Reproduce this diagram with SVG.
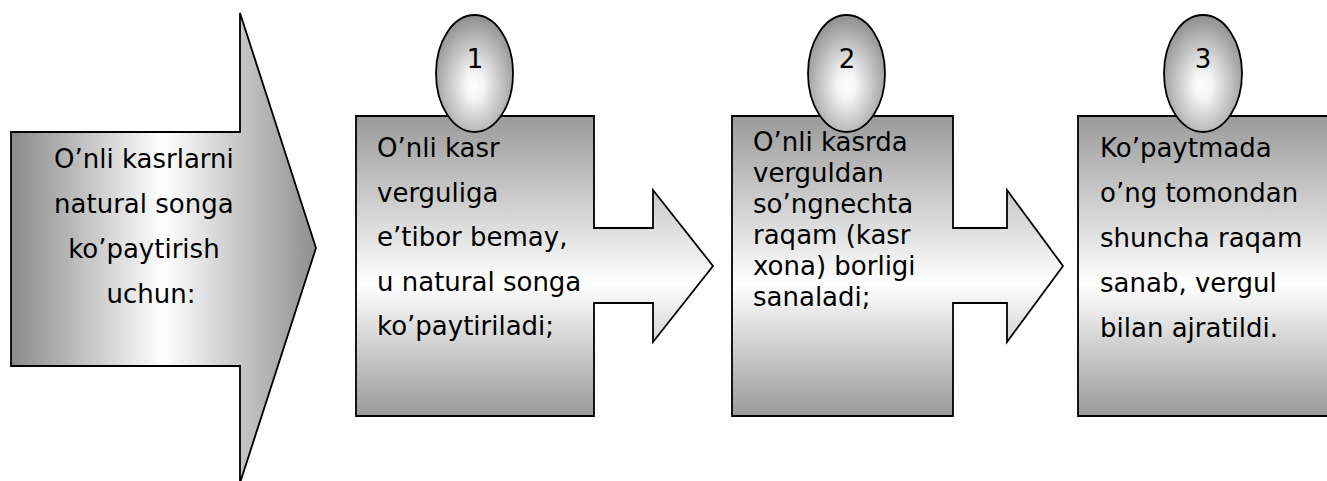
<svg xmlns="http://www.w3.org/2000/svg" width="1327" height="481" viewBox="0 0 1327 481">
  <defs>
    <linearGradient id="gH" x1="0" y1="0" x2="1" y2="0">
      <stop offset="0" stop-color="#8a8a8a"/>
      <stop offset="0.5" stop-color="#ffffff"/>
      <stop offset="1" stop-color="#8f8f8f"/>
    </linearGradient>
    <linearGradient id="gV" x1="0" y1="0" x2="0" y2="1">
      <stop offset="0" stop-color="#9a9a9a"/>
      <stop offset="0.56" stop-color="#ffffff"/>
      <stop offset="1" stop-color="#9a9a9a"/>
    </linearGradient>
    <radialGradient id="gR" cx="0.5" cy="0.6" r="0.6">
      <stop offset="0" stop-color="#ffffff"/>
      <stop offset="0.2" stop-color="#f4f4f4"/>
      <stop offset="1" stop-color="#8e8e8e"/>
    </radialGradient>
  </defs>
  <style>
    .shape { stroke: #000; stroke-width: 1.8; }
    .t { font-family: "DejaVu Sans", "Liberation Sans", sans-serif; font-size: 26px; fill: #000; }
    .c { text-anchor: middle; }
  </style>
  <rect width="1327" height="481" fill="#fff"/>

  <g id="intro">
    <path class="shape" fill="url(#gH)" d="M11,132 H240 V13 L316,248 L240,483 V366 H11 Z"/>
    <text class="t c">
      <tspan x="148" y="168">O’nli kasrlarni</tspan>
      <tspan x="148" y="213">natural songa</tspan>
      <tspan x="148" y="258">ko’paytirish</tspan>
      <tspan x="151" y="303">uchun:</tspan>
    </text>
  </g>

  <g id="step1">
    <path class="shape" fill="url(#gV)" d="M356,116 H594 V228 H653 V190 L713,266 L653,342 V303 H594 V416 H356 Z"/>
    <ellipse class="shape" fill="url(#gR)" cx="474.5" cy="73.5" rx="38.5" ry="58.5"/>
    <text class="t c" x="475" y="68">1</text>
    <text class="t">
      <tspan x="377" y="157">O’nli kasr</tspan>
      <tspan x="377" y="201.5">verguliga</tspan>
      <tspan x="377" y="246">e’tibor bemay,</tspan>
      <tspan x="377" y="290.5">u natural songa</tspan>
      <tspan x="377" y="335">ko’paytiriladi;</tspan>
    </text>
  </g>

  <g id="step2">
    <path class="shape" fill="url(#gV)" d="M732,116 H953 V228 H1007 V190 L1063,266 L1007,342 V303 H953 V416 H732 Z"/>
    <ellipse class="shape" fill="url(#gR)" cx="846.5" cy="73.5" rx="38.5" ry="58.5"/>
    <text class="t c" x="847" y="68">2</text>
    <text class="t">
      <tspan x="753" y="151">O’nli kasrda</tspan>
      <tspan x="753" y="182">verguldan</tspan>
      <tspan x="753" y="213">so’ngnechta</tspan>
      <tspan x="753" y="244">raqam (kasr</tspan>
      <tspan x="753" y="275">xona) borligi</tspan>
      <tspan x="753" y="306">sanaladi;</tspan>
    </text>
  </g>

  <g id="step3">
    <path class="shape" fill="url(#gV)" d="M1078,116 H1340 V416 H1078 Z"/>
    <ellipse class="shape" fill="url(#gR)" cx="1203" cy="73.5" rx="39" ry="58.5"/>
    <text class="t c" x="1203" y="68">3</text>
    <text class="t">
      <tspan x="1100" y="157">Ko’paytmada</tspan>
      <tspan x="1100" y="202">o’ng tomondan</tspan>
      <tspan x="1100" y="247">shuncha raqam</tspan>
      <tspan x="1100" y="292">sanab, vergul</tspan>
      <tspan x="1100" y="337">bilan ajratildi.</tspan>
    </text>
  </g>

  <g id="connectors"></g>
</svg>
